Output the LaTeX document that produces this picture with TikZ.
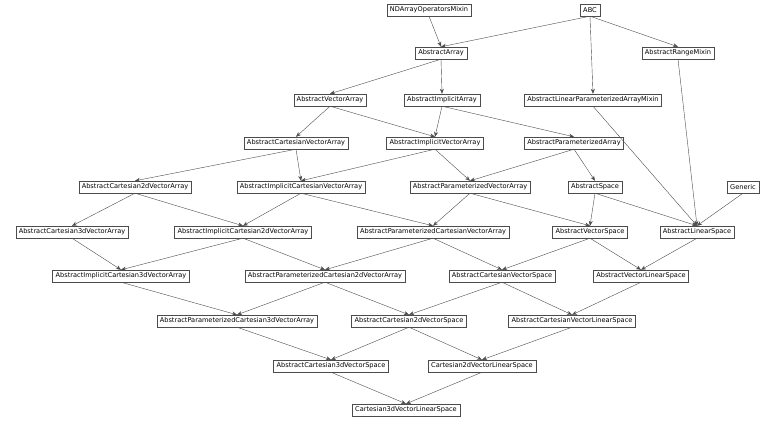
\documentclass[tikz,border=0pt]{standalone}
\usepackage{fontspec}
\setmainfont{DejaVu Sans}
\usetikzlibrary{arrows.meta}
\begin{document}
\begin{tikzpicture}[x=1pt,y=-1pt,
  cls/.style={draw=black!70,line width=0.4pt,font=\fontsize{6.6}{7}\selectfont,inner xsep=3pt,inner ysep=0pt,minimum height=12pt},
  ed/.style={draw=black!70,line width=0.4pt,-{Stealth[length=5pt,width=4pt]}}]
\useasboundingbox (0,0) rectangle (768,422);
\node[cls] (nd) at (429,10) {NDArrayOperatorsMixin};
\node[cls] (abc) at (590,10) {ABC};
\node[cls] (aa) at (441,53) {AbstractArray};
\node[cls] (arm) at (678,53) {AbstractRangeMixin};
\node[cls] (ava) at (330,100) {AbstractVectorArray};
\node[cls] (aia) at (442,100) {AbstractImplicitArray};
\node[cls] (alpam) at (593,100) {AbstractLinearParameterizedArrayMixin};
\node[cls] (acva) at (296,143) {AbstractCartesianVectorArray};
\node[cls] (aiva) at (435,143) {AbstractImplicitVectorArray};
\node[cls] (apa) at (574,143) {AbstractParameterizedArray};
\node[cls] (ac2va) at (135,187) {AbstractCartesian2dVectorArray};
\node[cls] (aicva) at (301,187) {AbstractImplicitCartesianVectorArray};
\node[cls] (apva) at (470,187) {AbstractParameterizedVectorArray};
\node[cls] (as) at (595,187) {AbstractSpace};
\node[cls] (gen) at (743,187) {Generic};
\node[cls] (ac3va) at (72,232) {AbstractCartesian3dVectorArray};
\node[cls] (aic2va) at (243,232) {AbstractImplicitCartesian2dVectorArray};
\node[cls] (apcva) at (433,232) {AbstractParameterizedCartesianVectorArray};
\node[cls] (avs) at (590,232) {AbstractVectorSpace};
\node[cls] (als) at (697,232) {AbstractLinearSpace};
\node[cls] (aic3va) at (121,276) {AbstractImplicitCartesian3dVectorArray};
\node[cls] (apc2va) at (325,276) {AbstractParameterizedCartesian2dVectorArray};
\node[cls] (acvs) at (502,276) {AbstractCartesianVectorSpace};
\node[cls] (avls) at (641,276) {AbstractVectorLinearSpace};
\node[cls] (apc3va) at (237,321) {AbstractParameterizedCartesian3dVectorArray};
\node[cls] (ac2vs) at (409,321) {AbstractCartesian2dVectorSpace};
\node[cls] (acvls) at (572,321) {AbstractCartesianVectorLinearSpace};
\node[cls] (ac3vs) at (331,366) {AbstractCartesian3dVectorSpace};
\node[cls] (c2vls) at (482,366) {Cartesian2dVectorLinearSpace};
\node[cls] (c3vls) at (406,410) {Cartesian3dVectorLinearSpace};
\foreach \a/\b in {nd/aa,abc/aa,abc/alpam,abc/arm,aa/ava,aa/aia,arm/als,alpam/als,
 ava/acva,ava/aiva,aia/aiva,aia/apa,acva/ac2va,acva/aicva,aiva/aicva,aiva/apva,
 apa/apva,apa/as,ac2va/ac3va,ac2va/aic2va,aicva/aic2va,aicva/apcva,apva/apcva,apva/avs,
 as/avs,as/als,gen/als,ac3va/aic3va,aic2va/aic3va,aic2va/apc2va,apcva/apc2va,apcva/acvs,
 avs/acvs,avs/avls,als/avls,aic3va/apc3va,apc2va/apc3va,apc2va/ac2vs,acvs/ac2vs,acvs/acvls,
 avls/acvls,apc3va/ac3vs,ac2vs/ac3vs,ac2vs/c2vls,acvls/c2vls,ac3vs/c3vls,c2vls/c3vls}
 \draw[ed] (\a.south) -- (\b.north);
\end{tikzpicture}
\end{document}
